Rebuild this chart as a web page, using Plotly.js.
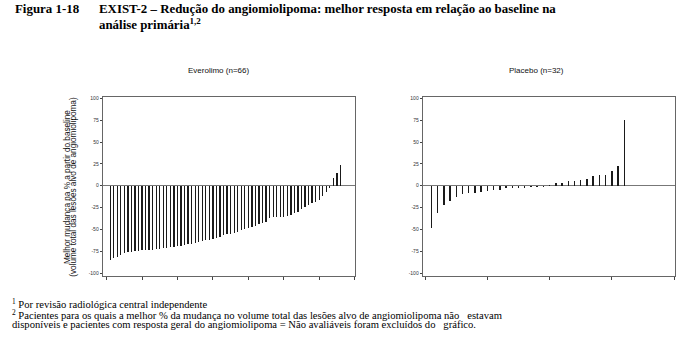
<!DOCTYPE html>
<html>
<head>
<meta charset="utf-8">
<script src="https://cdn.plot.ly/plotly-3.0.1.min.js"></script>
<style>
html,body{margin:0;padding:0;background:#fff;}
#chart{width:700px;height:357px;}
</style>
</head>
<body>
<div id="chart"></div>
<script>
// ---- data ----
var everolimoValues = [-85, -82.5, -81.5, -79, -77.5, -76, -75.5, -75, -74.5, -74,
  -73.8, -73.4, -73, -72.6, -72.2, -71.5, -71, -70.5, -70, -69.5,
  -68.8, -68, -67.2, -66.4, -65.5, -64.5, -63.6, -62.6, -61.6, -60.5,
  -59.6, -58.5, -56.3, -55.5, -55, -54.4, -52.5, -50.6, -49.4, -48.7,
  -46.8, -45.6, -44, -43, -41.8, -36.5, -36, -36, -35.8, -35.4,
  -35, -33.5, -31.6, -29.7, -27, -24.7, -22, -20, -18.3, -16.3,
  -11.8, -6.8, -2.3, 8.4, 14, 23.6];
var placeboValues = [-48, -31, -21.5, -17, -12.5, -9, -8, -8, -6.8, -5.7,
  -5.3, -4.6, -2.7, -2.5, -2.3, -2.2, -2, -2, -1.5, 0.8,
  3, 3.4, 5.7, 5.7, 6.5, 7.6, 11, 12, 12.2, 16.5,
  22.8, 75.7];
var everolimoPatients = everolimoValues.map(function(_, i){ return i + 1; });
var placeboPatients = placeboValues.map(function(_, i){ return i + 1; });
var yTickVals = [-100, -75, -50, -25, 0, 25, 50, 75, 100];
var yTickText = ['-100', '-75', '-50', '-25', '0', '25', '50', '75', '100'];
var everolimoTitle = 'Everolimo (n=66)';
var placeboTitle = 'Placebo (n=32)';
var figLabel = 'Figura 1-18';
var titleLine1 = 'EXIST-2 – Redução do angiomiolipoma: melhor resposta em relação ao baseline na';
var titleLine2 = 'análise primária<sup>1,2</sup>';
var yTitle1 = 'Melhor mudança na % a partir do baseline';
var yTitle2 = '(volume total das lesões alvo de angiomiolipoma)';
var foot1 = '<sup>1</sup> Por revisão radiológica central independente';
var foot2 = '<sup>2</sup> Pacientes para os quais a melhor % da mudança no volume total das lesões alvo de angiomiolipoma não   estavam';
var foot3 = 'disponíveis e pacientes com resposta geral do angiomiolipoma = Não avaliáveis foram excluídos do   gráfico.';

// ---- layout helpers ----
var W = 700, H = 357;
function px(x){ return x / W; }
function py(y){ return 1 - y / H; }

var barColor = '#1a1a1a';
var traces = [
  {type:'bar', x: everolimoPatients, y: everolimoValues, xaxis:'x', yaxis:'y',
   width: 0.36, marker:{color: barColor, line:{width:0}}, hoverinfo:'skip'},
  {type:'bar', x: placeboPatients, y: placeboValues, xaxis:'x2', yaxis:'y2',
   width: 0.24, marker:{color: barColor, line:{width:0}}, hoverinfo:'skip'}
];

var yDomain = [py(276), py(97)];
var axisCommonY = {
  range:[-103.3, 101.5], tickvals: yTickVals, ticktext: yTickText,
  ticks:'outside', ticklen:2, tickwidth:1, tickcolor:'#444',
  tickfont:{family:'Liberation Sans, Arial', size:5, color:'#333'},
  showgrid:false, zeroline:true, zerolinecolor:'#777', zerolinewidth:1.5,
  showline:true, linecolor:'#666', linewidth:1, mirror:true, domain: yDomain
};
var axisCommonX = {
  ticks:'outside', ticklen:3, tickwidth:1, tickcolor:'#444', showticklabels:false,
  showgrid:false, zeroline:false, showline:true, linecolor:'#666', linewidth:1, mirror:true
};

var serif = 'Liberation Serif, Times New Roman, serif';
var sans = 'Liberation Sans, Arial, sans-serif';
function ann(text, x, y, opts){
  var a = {text:text, x:px(x), y:py(y), xref:'paper', yref:'paper', showarrow:false,
    xanchor:'left', yanchor:'middle', font:{family:serif, size:11, color:'#000'}};
  for (var k in opts) a[k] = opts[k];
  return a;
}
var titleFont = {family:serif, size:12.9, color:'#000'};
var footFont = {family:serif, size:10.6, color:'#000'};

var layout = {
  width: W, height: H, margin:{l:0, r:0, t:0, b:0},
  paper_bgcolor:'#fff', plot_bgcolor:'#fff', showlegend:false, bargap:0,
  xaxis: Object.assign({}, axisCommonX, {domain:[px(102.7), px(355)], range:[-1.1, 70.1], tickvals:[0,10,20,30,40,50,60,70]}),
  yaxis: Object.assign({}, axisCommonY, {anchor:'x'}),
  xaxis2: Object.assign({}, axisCommonX, {domain:[px(422.7), px(675)], range:[-0.4, 40.15], tickvals:[0,10,20,30,40], anchor:'y2'}),
  yaxis2: Object.assign({}, axisCommonY, {anchor:'x2'}),
  annotations: [
    ann('<b>' + figLabel + '</b>', 13, 8.5, {font:titleFont}),
    ann('<b>' + titleLine1 + '</b>', 96.7, 8.5, {font:titleFont}),
    ann('<b>' + titleLine2 + '</b>', 96.7, 24, {font:titleFont}),
    ann(everolimoTitle, 218, 70.3, {xanchor:'center', font:{family:sans, size:8, color:'#111'}}),
    ann(placeboTitle, 536, 70.3, {xanchor:'center', font:{family:sans, size:8, color:'#111'}}),
    ann(yTitle1, 67.3, 186.7, {xanchor:'center', textangle:-90, font:{family:sans, size:8.2, color:'#111'}}),
    ann(yTitle2, 74, 186.7, {xanchor:'center', textangle:-90, font:{family:sans, size:8.2, color:'#111'}}),
    ann(foot1, 10, 303.5, {font:footFont}),
    ann(foot2, 10, 314, {font:footFont}),
    ann(foot3, 10, 324.8, {font:footFont})
  ]
};

Plotly.newPlot('chart', traces, layout, {staticPlot:true, displayModeBar:false});
</script>
</body>
</html>
